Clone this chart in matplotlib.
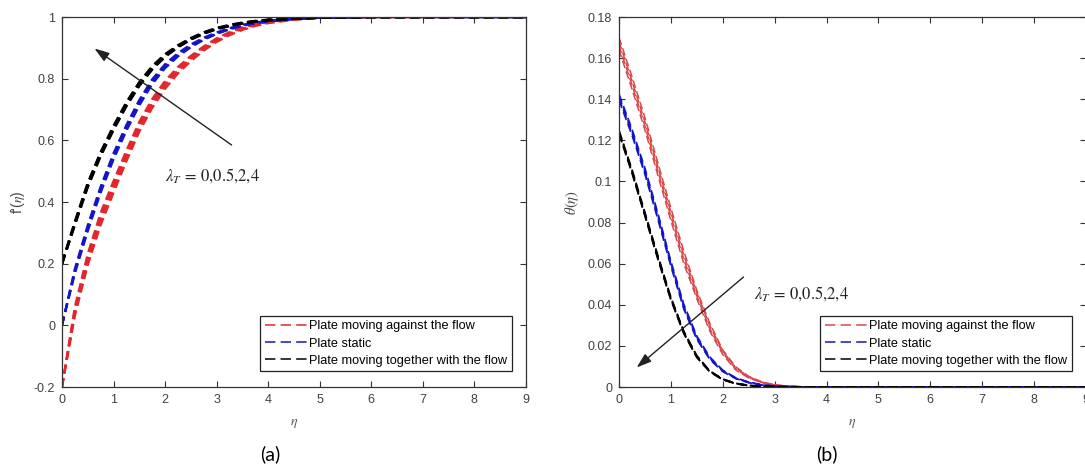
import matplotlib
matplotlib.use("Agg")
import matplotlib.pyplot as plt
from matplotlib.lines import Line2D
from matplotlib.ticker import FuncFormatter

plt.rcParams['font.family'] = ['Liberation Sans', 'DejaVu Sans']
plt.rcParams['mathtext.fontset'] = 'stix'

# ---------------- data: panel (a) f'(eta) ----------------
eta_f = [0, 0.25, 0.5, 0.75, 1, 1.25, 1.5, 1.75, 2, 2.25, 2.5, 2.75, 3, 3.25, 3.5, 3.75, 4, 4.5, 5, 6, 7, 8, 9]

# plate moving against the flow (red), lambda_T = 0, 0.5, 2, 4
fa_red_0  = [-0.2, 0.030, 0.195, 0.325, 0.430, 0.532, 0.628, 0.705, 0.767, 0.817, 0.857, 0.891, 0.919, 0.941, 0.958, 0.971, 0.980, 0.991, 0.997, 1, 1, 1, 1]
fa_red_05 = [-0.2, 0.040, 0.208, 0.340, 0.444, 0.545, 0.640, 0.716, 0.777, 0.825, 0.864, 0.897, 0.924, 0.945, 0.961, 0.973, 0.982, 0.992, 0.997, 1, 1, 1, 1]
fa_red_2  = [-0.2, 0.050, 0.220, 0.352, 0.456, 0.556, 0.650, 0.725, 0.785, 0.832, 0.869, 0.901, 0.927, 0.948, 0.963, 0.975, 0.984, 0.993, 0.998, 1, 1, 1, 1]
fa_red_4  = [-0.2, 0.060, 0.232, 0.365, 0.468, 0.567, 0.660, 0.734, 0.793, 0.838, 0.874, 0.905, 0.931, 0.951, 0.966, 0.977, 0.985, 0.994, 0.998, 1, 1, 1, 1]

# plate static (blue)
fa_blue_0  = [0.0, 0.168, 0.305, 0.430, 0.538, 0.631, 0.713, 0.782, 0.834, 0.872, 0.902, 0.926, 0.945, 0.960, 0.971, 0.980, 0.986, 0.994, 0.998, 1, 1, 1, 1]
fa_blue_05 = [0.0, 0.173, 0.312, 0.437, 0.545, 0.637, 0.719, 0.787, 0.838, 0.875, 0.904, 0.928, 0.946, 0.961, 0.972, 0.980, 0.986, 0.994, 0.998, 1, 1, 1, 1]
fa_blue_2  = [0.0, 0.178, 0.318, 0.443, 0.551, 0.643, 0.725, 0.793, 0.842, 0.879, 0.908, 0.930, 0.948, 0.962, 0.973, 0.981, 0.987, 0.994, 0.998, 1, 1, 1, 1]
fa_blue_4  = [0.0, 0.183, 0.325, 0.450, 0.558, 0.650, 0.731, 0.798, 0.847, 0.883, 0.911, 0.933, 0.950, 0.964, 0.975, 0.982, 0.988, 0.995, 0.998, 1, 1, 1, 1]

# plate moving together with the flow (black)
fa_blk_0  = [0.2, 0.326, 0.449, 0.549, 0.634, 0.711, 0.777, 0.830, 0.871, 0.902, 0.927, 0.946, 0.961, 0.971, 0.979, 0.985, 0.990, 0.995, 0.998, 1, 1, 1, 1]
fa_blk_05 = [0.2, 0.329, 0.453, 0.553, 0.638, 0.715, 0.780, 0.833, 0.874, 0.904, 0.928, 0.947, 0.962, 0.972, 0.980, 0.986, 0.990, 0.995, 0.998, 1, 1, 1, 1]
fa_blk_2  = [0.2, 0.332, 0.457, 0.557, 0.642, 0.719, 0.784, 0.837, 0.877, 0.906, 0.930, 0.949, 0.963, 0.973, 0.981, 0.986, 0.990, 0.995, 0.998, 1, 1, 1, 1]
fa_blk_4  = [0.2, 0.335, 0.461, 0.561, 0.646, 0.723, 0.788, 0.840, 0.879, 0.908, 0.931, 0.950, 0.964, 0.974, 0.981, 0.987, 0.991, 0.996, 0.998, 1, 1, 1, 1]

# ---------------- data: panel (b) theta(eta) ----------------
eta_t = [0, 0.25, 0.5, 0.75, 1, 1.25, 1.5, 1.75, 2, 2.25, 2.5, 2.75, 3, 3.25, 3.5, 4, 5, 6, 7, 8, 9]

tb_red_0  = [0.170, 0.151, 0.131, 0.109, 0.087, 0.066, 0.0470, 0.0310, 0.0180, 0.0098, 0.0052, 0.0025, 0.0011, 0.0004, 0.0001, 0, 0, 0, 0, 0, 0]
tb_red_05 = [0.168, 0.149, 0.129, 0.107, 0.085, 0.064, 0.0458, 0.0298, 0.0174, 0.0093, 0.0050, 0.0024, 0.0010, 0.0004, 0.0001, 0, 0, 0, 0, 0, 0]
tb_red_2  = [0.166, 0.147, 0.127, 0.105, 0.083, 0.062, 0.0443, 0.0284, 0.0166, 0.0088, 0.0047, 0.0022, 0.0010, 0.0004, 0.0001, 0, 0, 0, 0, 0, 0]
tb_red_4  = [0.164, 0.145, 0.125, 0.103, 0.081, 0.060, 0.0430, 0.0272, 0.0158, 0.0083, 0.0044, 0.0021, 0.0009, 0.0003, 0.0001, 0, 0, 0, 0, 0, 0]

tb_blue_0  = [0.1425, 0.1255, 0.1065, 0.0845, 0.0612, 0.0402, 0.0248, 0.0146, 0.0082, 0.0045, 0.0024, 0.0011, 0.0005, 0.0002, 0.0001, 0, 0, 0, 0, 0, 0]
tb_blue_05 = [0.1415, 0.1245, 0.1055, 0.0835, 0.0604, 0.0394, 0.0243, 0.0142, 0.0080, 0.0043, 0.0023, 0.0010, 0.0004, 0.0002, 0.0001, 0, 0, 0, 0, 0, 0]
tb_blue_2  = [0.1405, 0.1235, 0.1045, 0.0825, 0.0596, 0.0386, 0.0237, 0.0138, 0.0077, 0.0042, 0.0022, 0.0010, 0.0004, 0.0002, 0.0001, 0, 0, 0, 0, 0, 0]
tb_blue_4  = [0.1395, 0.1225, 0.1035, 0.0815, 0.0588, 0.0378, 0.0232, 0.0134, 0.0075, 0.0041, 0.0021, 0.0009, 0.0004, 0.0002, 0.0001, 0, 0, 0, 0, 0, 0]

tb_blk_0  = [0.1248, 0.1058, 0.0848, 0.0638, 0.0436, 0.0270, 0.0152, 0.0078, 0.0038, 0.0018, 0.0008, 0.0003, 0.0001, 0, 0, 0, 0, 0, 0, 0, 0]
tb_blk_05 = [0.1243, 0.1053, 0.0843, 0.0633, 0.0432, 0.0267, 0.0150, 0.0077, 0.0038, 0.0017, 0.0007, 0.0003, 0.0001, 0, 0, 0, 0, 0, 0, 0, 0]
tb_blk_2  = [0.1237, 0.1047, 0.0837, 0.0627, 0.0428, 0.0263, 0.0146, 0.0075, 0.0036, 0.0017, 0.0007, 0.0003, 0.0001, 0, 0, 0, 0, 0, 0, 0, 0]
tb_blk_4  = [0.1232, 0.1042, 0.0832, 0.0622, 0.0424, 0.0260, 0.0144, 0.0074, 0.0036, 0.0016, 0.0007, 0.0003, 0.0001, 0, 0, 0, 0, 0, 0, 0, 0]

legend_labels = ["Plate moving against the flow", "Plate static", "Plate moving together with the flow"]
lambda_text = r'$\lambda_T\,=\,0{,}0.5{,}2{,}4$'

xticks = [0, 1, 2, 3, 4, 5, 6, 7, 8, 9]
yticks_a = [-0.2, 0, 0.2, 0.4, 0.6, 0.8, 1]
yticks_b = [0, 0.02, 0.04, 0.06, 0.08, 0.1, 0.12, 0.14, 0.16, 0.18]

# ---------------- styling ----------------
RED_A = '#e3262b'
RED_B = '#d9474a'
BLUE = '#1414c8'
BLACK = '#000000'
AX_COL = '#333333'
TICK_COL = '#404040'

fig = plt.figure(figsize=(10.85, 4.66), dpi=100)
axA = fig.add_axes([0.0571, 0.1695, 0.4276, 0.794])
axB = fig.add_axes([0.5705, 0.1695, 0.4304, 0.794])

gfmt = FuncFormatter(lambda v, p: ('%g' % round(v, 4)))


def style_axes(ax):
    for s in ax.spines.values():
        s.set_color(AX_COL)
        s.set_linewidth(0.9)
    ax.tick_params(direction='in', length=4, width=0.8, color=AX_COL,
                   labelcolor=TICK_COL, labelsize=9, top=True, right=True, pad=5)
    ax.set_xticks(xticks)
    ax.set_xlim(0, 9)
    ax.xaxis.set_major_formatter(gfmt)
    ax.yaxis.set_major_formatter(gfmt)
    ax.set_xlabel(r'$\eta$', fontsize=10, color='#555555', labelpad=7)


def draw_group(ax, x, curves, color, lw, dashes):
    for c in curves:
        ax.plot(x, c, color=color, lw=lw, dashes=dashes, solid_capstyle='butt', dash_capstyle='butt')


# panel (a)
draw_group(axA, eta_f, [fa_red_0, fa_red_05, fa_red_2, fa_red_4], RED_A, 1.6, (4.0, 2.2))
draw_group(axA, eta_f, [fa_blue_0, fa_blue_05, fa_blue_2, fa_blue_4], BLUE, 1.6, (4.0, 2.2))
draw_group(axA, eta_f, [fa_blk_0, fa_blk_05, fa_blk_2, fa_blk_4], BLACK, 1.9, (3.6, 2.0))
style_axes(axA)
axA.set_ylim(-0.2, 1)
axA.set_yticks(yticks_a)
axA.set_ylabel("f'($\\eta$)", fontsize=10, color='#444444', labelpad=5)
axA.annotate('', xy=(0.63, 0.898), xytext=(3.29, 0.585),
             arrowprops=dict(arrowstyle='-|>,head_length=0.9,head_width=0.3',
                             color='#222222', lw=1.0, shrinkA=0, shrinkB=0))
axA.text(2.0, 0.485, lambda_text, fontsize=12, va='center', ha='left', color='#222222')

# panel (b)
draw_group(axB, eta_t, [tb_red_0, tb_red_05, tb_red_2, tb_red_4], RED_B, 1.1, (5.0, 2.4))
draw_group(axB, eta_t, [tb_blue_0, tb_blue_05, tb_blue_2, tb_blue_4], BLUE, 1.2, (5.0, 2.6))
draw_group(axB, eta_t, [tb_blk_0, tb_blk_05, tb_blk_2, tb_blk_4], BLACK, 1.3, (5.0, 2.6))
style_axes(axB)
axB.set_ylim(0, 0.18)
axB.set_yticks(yticks_b)
axB.set_ylabel(r'$\theta(\eta)$', fontsize=10.5, color='#444444', labelpad=5)
axB.annotate('', xy=(0.34, 0.0095), xytext=(2.40, 0.0535),
             arrowprops=dict(arrowstyle='-|>,head_length=0.9,head_width=0.3',
                             color='#222222', lw=1.0, shrinkA=0, shrinkB=0))
axB.text(2.6, 0.0456, lambda_text, fontsize=12, va='center', ha='left', color='#222222')

# legends
for ax, red in ((axA, RED_A), (axB, RED_B)):
    handles = [Line2D([], [], color=c, lw=1.1, dashes=(6.8, 3.4)) for c in (red, BLUE, BLACK)]
    leg = ax.legend(handles, legend_labels, loc='lower right', bbox_to_anchor=(0.97, 0.043),
                    borderaxespad=0, fontsize=9.2, handlelength=3.3, handletextpad=0.2,
                    labelspacing=0.4, borderpad=0.35, fancybox=False, framealpha=1)
    leg.get_frame().set_edgecolor('#222222')
    leg.get_frame().set_linewidth(0.9)

# captions
fig.text(270 / 1085, 1 - 454 / 466, '(a)', fontsize=14, family=['Lato', 'DejaVu Sans'],
         ha='center', va='center')
fig.text(827 / 1085, 1 - 454 / 466, '(b)', fontsize=14, family=['Lato', 'DejaVu Sans'],
         ha='center', va='center')

fig.savefig('out.png', dpi=100)
